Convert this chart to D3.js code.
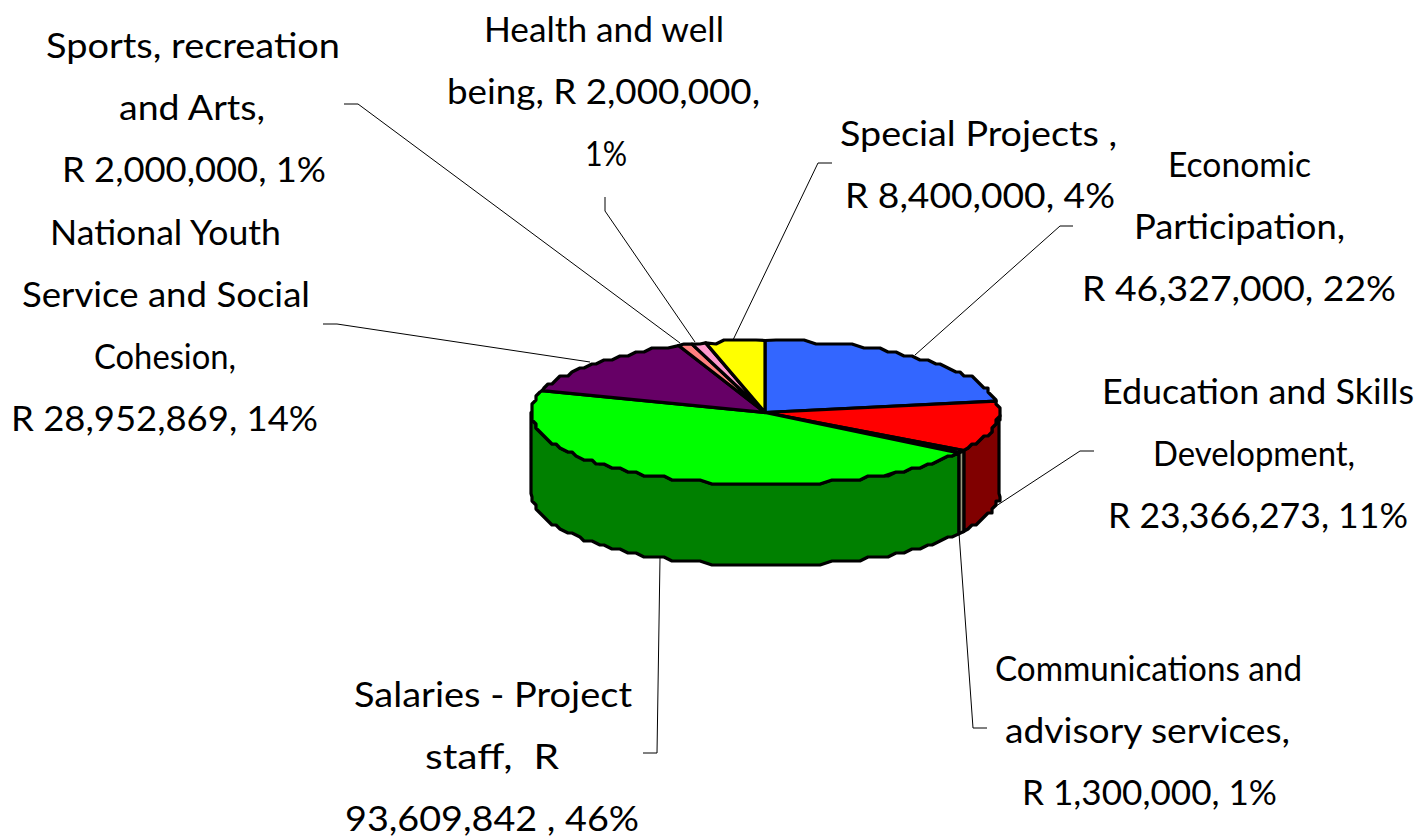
<!DOCTYPE html>
<html><head><meta charset="utf-8">
<script src="https://cdnjs.cloudflare.com/ajax/libs/d3/7.8.5/d3.min.js"></script>
<style>html,body{margin:0;padding:0;background:#fff;overflow:hidden}svg{display:block}text{font-family:Lato,"Open Sans",sans-serif;fill:#000}</style>
</head><body><svg id="c" width="1420" height="837"></svg>
<script>
const categories = ["Economic Participation","Education and Skills Development","Communications and advisory services","Salaries - Project staff","National Youth Service and Social Cohesion","Sports, recreation and Arts","Health and well being","Special Projects"];
const values = [46327000,23366273,1300000,93609842,28952869,2000000,2000000,8400000];
const topColors = ["#3366FF","#FF0000","#C0C0A0","#00FF00","#660066","#FF8080","#FF99CC","#FFFF00"];
const sideColors = ["#1F3D99","#800000","#999980","#008000","#3D003D","#994D4D","#995C7A","#999900"];
const labelLines = [
 ["Economic","Participation,","R 46,327,000, 22%"],
 ["Education and Skills","Development,","R 23,366,273, 11%"],
 ["Communications and","advisory services,","R 1,300,000, 1%"],
 ["Salaries - Project","staff,  R","93,609,842 , 46%"],
 ["National Youth","Service and Social","Cohesion,","R 28,952,869, 14%"],
 ["Sports, recreation","and Arts,","R 2,000,000, 1%"],
 ["Health and well","being, R 2,000,000,","1%"],
 ["Special Projects ,","R 8,400,000, 4%"]
];
// layout: [left, right] of each label line, baseline of first line
const lineExtents = [
 [[1168,1311],[1134,1345],[1082,1396]],
 [[1102,1414],[1153,1355],[1108,1408]],
 [[995,1302],[1005,1290],[1022,1277]],
 [[354,632],[425,559],[345,639]],
 [[50,281],[22,310],[94,236],[11,318]],
 [[46,340],[119,265],[62,326]],
 [[484,724],[447,760],[585,627]],
 [[840,1117],[845,1115]]
];
const firstBaseline = [177,404,681,707,245,58,42,146];
const leaders = [
 [[915,355],[1060,226],[1073,226]],
 [[990,510],[1080,451],[1094,451]],
 [[959,533],[973,728],[987,728]],
 [[660,558],[657,753],[643,753]],
 [[590,362],[337,324],[323,324]],
 [[680,343],[358,104],[344,104]],
 [[695,342],[605,211],[605,197]],
 [[733,340],[818,163],[832,163]]
];
const svg = d3.select("#c");
const cx=765, cy=412.5, rx=234, ry=72, depth=81, grid=4;
const sx = d3.scaleLinear().domain([-1,1]).range([cx-rx,cx+rx]);
const sy = d3.scaleLinear().domain([-1,1]).range([cy-ry,cy+ry]);
const snap = v => Math.round(v/grid)*grid;
const pie = d3.pie().sort(null).startAngle(0).endAngle(2*Math.PI);
const arcs = pie(values);
const stepA = Math.PI/72;
// rim points: exact at slice boundaries, stepped between them like the low-resolution original
const rim = (a0,a1)=>{
 const n=Math.max(1,Math.ceil((a1-a0)/stepA));
 return d3.range(n+1).map(i=>{
  const a=a0+(a1-a0)*i/n, x=sx(Math.sin(a)), y=sy(-Math.cos(a));
  return (i===0||i===n)?[x,y]:[snap(x),snap(y)];
 });
};
const stroke="#000", sw=3.2;
const lineGen = d3.line().curve(d3.curveLinear);
const areaGen = d3.area().x(p=>p[0]).y0(p=>p[1]).y1(p=>p[1]+depth).curve(d3.curveLinear);
// leader lines
svg.append("g").selectAll("path").data(leaders).join("path")
 .attr("d",d=>lineGen(d)).attr("fill","none").attr("stroke","#000").attr("stroke-width",1);
// side walls: only the front half of the ellipse is visible
const g=svg.append("g").attr("stroke",stroke).attr("stroke-width",sw).attr("stroke-linejoin","round");
arcs.forEach((d,i)=>{
 const a0=Math.max(d.startAngle,Math.PI/2), a1=Math.min(d.endAngle,3*Math.PI/2);
 if(a1<=a0) return;
 g.append("path").attr("d",areaGen(rim(a0,a1))).attr("fill",sideColors[i]);
});
// top faces
arcs.forEach((d,i)=>{
 const pts=[[sx(0),sy(0)]].concat(rim(d.startAngle,d.endAngle));
 g.append("path").attr("d",lineGen(pts)+"Z").attr("fill",topColors[i]);
});
// labels
labelLines.forEach((lines,i)=>{
 lines.forEach((t,j)=>{
  const [l,r]=lineExtents[i][j];
  svg.append("text").attr("x",l).attr("y",firstBaseline[i]+j*62)
   .attr("font-size",35).attr("textLength",r-l).attr("lengthAdjust","spacingAndGlyphs")
   .attr("xml:space","preserve").style("white-space","pre").text(t);
 });
});
</script></body></html>
